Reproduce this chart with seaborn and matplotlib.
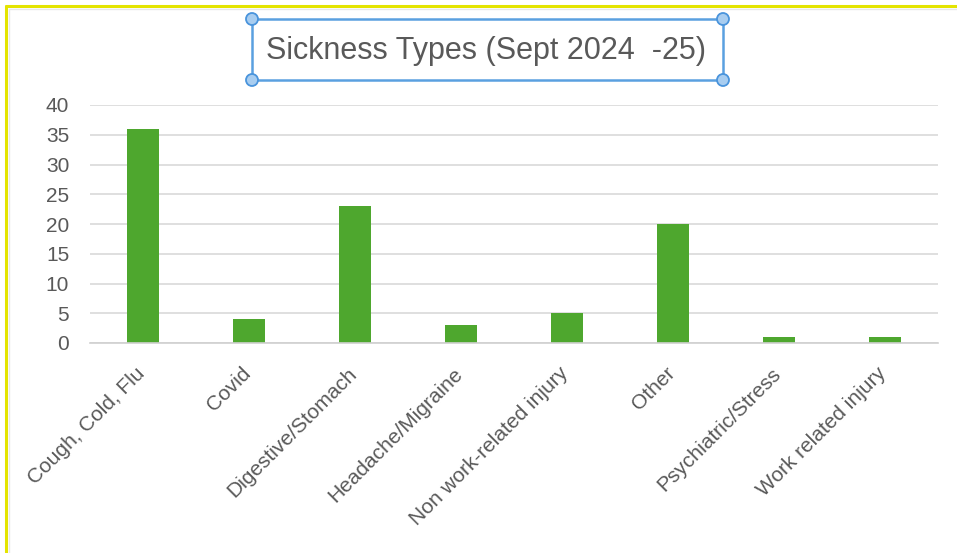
import matplotlib
matplotlib.use("Agg")
import matplotlib.pyplot as plt
from matplotlib.patches import Rectangle, Ellipse
from matplotlib.lines import Line2D
from matplotlib.transforms import ScaledTranslation
import seaborn as sns
import pandas as pd

categories = ["Cough, Cold, Flu", "Covid", "Digestive/Stomach", "Headache/Migraine",
              "Non work-related injury", "Other", "Psychiatric/Stress", "Work related injury"]
counts = [36, 4, 23, 3, 5, 20, 1, 1]
y_ticks = [0, 5, 10, 15, 20, 25, 30, 35, 40]
title = "Sickness Types (Sept 2024  -25)"

sns.set_theme(style="white")
plt.rcParams["font.family"] = ["Liberation Sans Narrow", "Liberation Sans", "DejaVu Sans"]

W, H = 957, 553
fig = plt.figure(figsize=(W / 100, H / 100), dpi=100)
fig.patch.set_facecolor("white")

def fx(px):
    return px / W

def fy(py):
    return 1 - py / H

ax = fig.add_axes([fx(90), fy(343), fx(938) - fx(90), fy(105) - fy(343)])

df = pd.DataFrame({"type": categories, "count": counts})
sns.barplot(data=df, x="type", y="count", color="#4EA72E", saturation=1,
            width=0.3, ax=ax, linewidth=0)

ax.set_ylim(0, 40)
ax.set_xlim(-0.5, len(categories) - 0.5)
ax.set_yticks(y_ticks)
ax.set_yticklabels([str(v) for v in y_ticks], fontsize=15, color="#595959")
ax.yaxis.grid(True, color="#d9d9d9", linewidth=1.2)
ax.set_axisbelow(True)
for s in ["top", "right", "left"]:
    ax.spines[s].set_visible(False)
ax.spines["bottom"].set_color("#d0d0d0")
ax.spines["bottom"].set_linewidth(1.2)
ax.tick_params(axis="y", length=0, pad=15)
ax.tick_params(axis="x", length=0, pad=15)
ax.set_xticks(range(len(categories)))
ax.set_xticklabels(categories, rotation=45, ha="right", va="top", rotation_mode="anchor",
                   fontsize=15, color="#595959")
shift = ScaledTranslation(-8 / 100, 0, fig.dpi_scale_trans)
for lbl in ax.get_xticklabels():
    lbl.set_transform(lbl.get_transform() + shift)
ax.set_xlabel("")
ax.set_ylabel("")

# Chart-area frame (top and left edges)
fig.add_artist(Line2D([fx(6), fx(6)], [0, fy(6)], color="#e4e400", linewidth=2.2,
                      transform=fig.transFigure))
fig.add_artist(Line2D([fx(6), 1], [fy(6), fy(6)], color="#e4e400", linewidth=2.2,
                      transform=fig.transFigure))
fig.add_artist(Line2D([fx(9), fx(9)], [0, fy(9)], color="#e8e8e8", linewidth=1,
                      transform=fig.transFigure))
fig.add_artist(Line2D([fx(9), 1], [fy(9), fy(9)], color="#e8e8e8", linewidth=1,
                      transform=fig.transFigure))

# Selected title box with handles
x0, x1, y0, y1 = 252, 723, 19, 80
fig.add_artist(Rectangle((fx(x0), fy(y1)), fx(x1) - fx(x0), fy(y0) - fy(y1),
                         transform=fig.transFigure, fill=False,
                         edgecolor="#5aa0e0", linewidth=1.8))
for (px, py) in [(x0, y0), (x1, y0), (x0, y1), (x1, y1)]:
    fig.add_artist(Ellipse((fx(px), fy(py)), width=12 / W, height=12 / H,
                           transform=fig.transFigure,
                           facecolor="#a8cdf0", edgecolor="#4a94dc", linewidth=1.3))
fig.text(fx(486), fy(51), title, ha="center", va="center", fontsize=22,
         color="#595959")

fig.savefig("out.png", dpi=100)
